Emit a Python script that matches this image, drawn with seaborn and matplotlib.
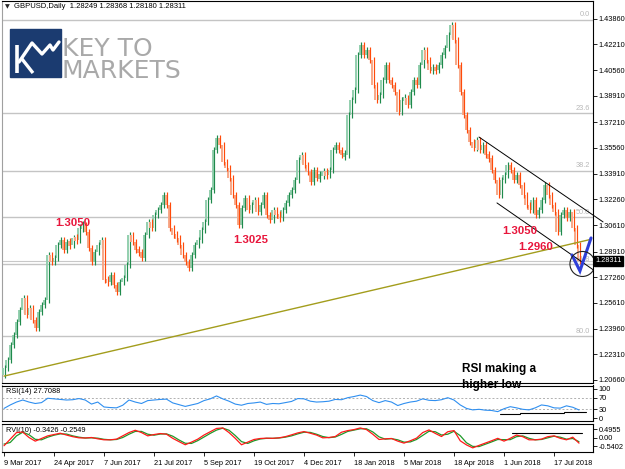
import numpy as np
import pandas as pd
import matplotlib
matplotlib.use("Agg")
import matplotlib.pyplot as plt
from matplotlib.patches import Rectangle, Ellipse
import seaborn as sns

sns.set_theme(style="white")
plt.rcParams['font.family'] = ['Liberation Sans', 'DejaVu Sans']

# ---------------- data ----------------
# GBPUSD closes, one value every 2 daily bars (9 Mar 2017 -> early Aug 2018)
closes = [
    1.2143, 1.2195, 1.2291, 1.2355, 1.2439, 1.2516, 1.2593, 1.2484, 1.2529, 1.2452,
    1.2400, 1.2503, 1.2548, 1.2580, 1.2869, 1.2824, 1.2850, 1.2933, 1.2965, 1.2901,
    1.2952, 1.2933, 1.2978, 1.2965, 1.3042, 1.3062, 1.3017, 1.2914, 1.2824, 1.2888,
    1.2933, 1.2965, 1.2708, 1.2696, 1.2741, 1.2676, 1.2631, 1.2696, 1.2721, 1.2805,
    1.2997, 1.2952, 1.2901, 1.2888, 1.2850, 1.2997, 1.3081, 1.3042, 1.3126, 1.3158,
    1.3190, 1.3254, 1.3190, 1.3042, 1.2997, 1.2978, 1.2933, 1.2869, 1.2824, 1.2785,
    1.2869, 1.2933, 1.2965, 1.3029, 1.3081, 1.3222, 1.3286, 1.3543, 1.3620, 1.3575,
    1.3466, 1.3427, 1.3363, 1.3254, 1.3190, 1.3062, 1.3171, 1.3235, 1.3158, 1.3190,
    1.3222, 1.3145, 1.3190, 1.3254, 1.3126, 1.3094, 1.3158, 1.3126, 1.3106, 1.3158,
    1.3203, 1.3254, 1.3286, 1.3350, 1.3479, 1.3511, 1.3447, 1.3402, 1.3338, 1.3415,
    1.3363, 1.3383, 1.3402, 1.3383, 1.3415, 1.3543, 1.3575, 1.3543, 1.3511, 1.3511,
    1.3768, 1.3864, 1.3928, 1.4153, 1.4217, 1.4153, 1.4185, 1.4121, 1.3960, 1.3864,
    1.3896, 1.3992, 1.4089, 1.3992, 1.3960, 1.3915, 1.3787, 1.3864, 1.3877, 1.3832,
    1.3915, 1.3992, 1.3960, 1.4089, 1.4185, 1.4121, 1.4057, 1.4069, 1.4057, 1.4089,
    1.4153, 1.4198, 1.4281, 1.4346, 1.4249, 1.4089, 1.3915, 1.3768, 1.3671, 1.3594,
    1.3556, 1.3607, 1.3543, 1.3575, 1.3511, 1.3492, 1.3415, 1.3350, 1.3254, 1.3350,
    1.3383, 1.3447, 1.3415, 1.3350, 1.3383, 1.3318, 1.3254, 1.3190, 1.3158, 1.3222,
    1.3126, 1.3158, 1.3222, 1.3318, 1.3254, 1.3190, 1.3145, 1.3017, 1.3126, 1.3158,
    1.3106, 1.3145, 1.3042, 1.2933, 1.28311,
]
first_open = 1.2100

# RSI(14), one value every 4 daily bars
rsi = [
    33, 45, 55, 62, 55, 50, 53, 68, 66, 64, 62, 63, 67, 62, 48, 55, 38, 36, 35, 44,
    62, 55, 50, 60, 62, 64, 65, 52, 46, 40, 45, 50, 60, 66, 76, 66, 58, 48, 44, 50,
    52, 55, 47, 50, 49, 53, 57, 67, 66, 58, 55, 56, 58, 64, 63, 70, 74, 79, 74, 60,
    53, 60, 55, 43, 50, 55, 58, 66, 61, 60, 63, 70, 62, 45, 33, 28, 30, 27, 26, 22,
    32, 39, 35, 30, 28, 35, 45, 42, 35, 34, 42, 37, 27.7088,
]
# RVI(10) main and signal, one value every 4 daily bars
rvi_main = [
    -0.50, -0.10, 0.30, 0.33, 0.00, -0.22, -0.06, 0.10, 0.18, 0.26, 0.15, 0.05, -0.02,
    -0.03, 0.00, -0.08, -0.14, -0.14, -0.10, 0.10, 0.30, 0.44, 0.30, 0.10, 0.18, 0.24,
    0.20, -0.05, -0.25, -0.44, -0.28, -0.10, 0.15, 0.35, 0.55, 0.58, 0.30, -0.05, -0.44,
    -0.28, -0.12, -0.06, -0.04, -0.05, -0.02, 0.05, 0.16, 0.28, 0.36, 0.26, 0.15, -0.02,
    0.00, 0.06, 0.32, 0.42, 0.48, 0.58, 0.48, 0.20, -0.12, -0.08, -0.06, -0.22, -0.34,
    -0.20, -0.04, 0.30, 0.46, 0.25, 0.06, 0.35, 0.42, -0.20, -0.45, -0.63, -0.48, -0.34,
    -0.20, -0.05, -0.22, -0.05, 0.15, 0.05, -0.14, -0.14, -0.10, 0.05, 0.10, -0.05,
    -0.14, 0.02, -0.3426,
]
rvi_signal = [
    -0.40, -0.30, 0.10, 0.32, 0.17, -0.11, -0.14, 0.02, 0.14, 0.22, 0.21, 0.10, 0.02,
    -0.03, -0.02, -0.04, -0.11, -0.14, -0.12, 0.00, 0.20, 0.37, 0.37, 0.20, 0.14, 0.21,
    0.22, 0.08, -0.15, -0.35, -0.36, -0.19, 0.03, 0.25, 0.45, 0.57, 0.44, 0.12, -0.25,
    -0.36, -0.20, -0.09, -0.05, -0.05, -0.03, 0.02, 0.10, 0.22, 0.32, 0.31, 0.20, 0.06,
    -0.01, 0.03, 0.19, 0.37, 0.45, 0.53, 0.53, 0.34, 0.04, -0.10, -0.07, -0.14, -0.28,
    -0.27, -0.12, 0.13, 0.38, 0.35, 0.15, 0.20, 0.38, 0.11, -0.32, -0.54, -0.55, -0.41,
    -0.27, -0.12, -0.13, -0.13, 0.05, 0.10, -0.05, -0.14, -0.12, -0.02, 0.08, 0.02,
    -0.10, -0.06, -0.2549,
]

price_ticks = [1.43860, 1.42210, 1.40560, 1.38910, 1.37210, 1.35560, 1.33910, 1.32260,
               1.30610, 1.28910, 1.27260, 1.25610, 1.23960, 1.22310, 1.20660]
date_labels = ["9 Mar 2017", "24 Apr 2017", "7 Jun 2017", "21 Jul 2017", "5 Sep 2017",
               "19 Oct 2017", "4 Dec 2017", "18 Jan 2018", "5 Mar 2018", "18 Apr 2018",
               "1 Jun 2018", "17 Jul 2018"]
bars_per_label = 32

fib_high, fib_low = 1.4380, 1.1840
fib_levels = [0.0, 23.6, 38.2, 50.0, 61.8, 80.0]
last_price = 1.28311
title_text = "GBPUSD,Daily  1.28249 1.28368 1.28180 1.28311"

# trader annotations (bar index, price)
trend_bars, trend_prices = [0, 376], [1.2091, 1.2970]
chan_up_bars, chan_up_prices = [304, 383.4], [1.3626, 1.3081]
chan_lo_bars, chan_lo_prices = [315.5, 378.2], [1.3203, 1.2766]
check_bars, check_prices = [363.5, 368.6, 375.7], [1.2869, 1.2766, 1.2978]
circle_bar, circle_price = 370.2, 1.2811
level_labels = [("1.3050", 44.2, 1.3077), ("1.3025", 158, 1.2965),
                ("1.3050", 330, 1.3023), ("1.2960", 340, 1.2923)]
rsi_steps = [(317.4, 330.2, 14), (330.2, 358.4, 17), (358.4, 372.5, 21)]
rvi_line = (325, 370, 0.30)

# ---------------- figure ----------------
W, H = 625, 469
fig = plt.figure(figsize=(W / 100, H / 100), dpi=100)
fig.patch.set_facecolor("white")

def axrect(top, bottom):
    return [2 / W, 1 - bottom / H, 591 / W, (bottom - top) / H]

ax = fig.add_axes(axrect(1, 383))
ax_rsi = fig.add_axes(axrect(385.5, 421), sharex=ax)
ax_rvi = fig.add_axes(axrect(424, 452), sharex=ax)

XL = (-1.28, 376.96)
FS = 5.3
for a in (ax, ax_rsi, ax_rvi):
    a.set_facecolor("white")
    for s in a.spines.values():
        s.set_color("black")
        s.set_linewidth(0.8)
    a.spines["left"].set_color("#a0a0a0")
    a.yaxis.tick_right()
    a.tick_params(axis="y", length=3, width=0.6, pad=0.8, labelsize=FS,
                  colors="black", direction="out")
    a.grid(False)
ax.set_xlim(*XL)

# ---- main price panel ----
ax.set_ylim(1.20467, 1.44996)
ax.set_yticks(price_ticks)
ax.set_yticklabels([f"{v:.5f}" for v in price_ticks])
ax.tick_params(axis="x", bottom=False, labelbottom=False)

# fibonacci levels
for lv in fib_levels:
    p = fib_high - (fib_high - fib_low) * lv / 100
    ax.axhline(p, color="#c4c4c4", lw=1.0, zorder=1)
    ax.text(0.995, p + 0.0008, f"{lv:.1f}", transform=ax.get_yaxis_transform(),
            ha="right", va="bottom", fontsize=FS, color="#b8b8b8", zorder=1)
ax.axhline(last_price, color="#c8c8c8", lw=0.8, zorder=1)

# candles (2 daily bars per entry); wick extension is a drawing style only
c = np.array(closes)
o = np.concatenate([[first_open], c[:-1]])
xb = np.arange(len(c)) * 2.0
lo = np.minimum(o, c)
hi = np.maximum(o, c)
mid = (lo + hi) / 2
half = np.maximum((hi - lo) / 2, 0.0014)
wick = 0.0020
up = c >= o
dn = ~up
ax.vlines(xb[up] - 0.42, mid[up] - half[up], mid[up] + half[up], color="#93cfae", lw=1.4, zorder=3)
ax.vlines(xb[up] + 0.55, mid[up] - half[up] - wick, mid[up] + half[up] + wick, color="#1f8a4c", lw=0.85, zorder=3)
ax.vlines(xb[dn] - 0.42, mid[dn] - half[dn], mid[dn] + half[dn], color="#f7a888", lw=1.4, zorder=3)
ax.vlines(xb[dn] + 0.55, mid[dn] - half[dn] - wick, mid[dn] + half[dn] + wick, color="#ff4a0a", lw=0.85, zorder=3)

# trend lines
sns.lineplot(x=trend_bars, y=trend_prices, ax=ax, color="#a39d1c", lw=1.0, zorder=4)
sns.lineplot(x=chan_lo_bars, y=chan_lo_prices, ax=ax, color="black", lw=0.7, zorder=4)
ax.plot(chan_up_bars, chan_up_prices, color="black", lw=0.7, zorder=4, clip_on=False)
ax.plot(check_bars, check_prices, color="#2f3fd8", lw=2.2, zorder=6,
        solid_capstyle="round", solid_joinstyle="miter")
ax.add_patch(Ellipse((circle_bar, circle_price), 25 / 1.5625, 25 / 1557.5,
                     fill=False, ec="#222222", lw=0.8, zorder=6))

for txt, b, p in level_labels:
    ax.text(b, p, txt, ha="center", va="center", fontsize=8.2, fontweight="bold",
            color="#e8163c", zorder=7)

# current price box
ax.text(1.004, last_price, f"{last_price:.5f}", transform=ax.get_yaxis_transform(),
        ha="left", va="center", fontsize=FS, color="white", zorder=8, clip_on=False,
        bbox=dict(boxstyle="square,pad=0.2", fc="black", ec="black"))

# ---- RSI panel ----
rsi_x = np.arange(len(rsi)) * 4.0
sns.lineplot(x=rsi_x, y=rsi, ax=ax_rsi, color="#2f8ff0", lw=0.8)
ax_rsi.set_ylim(-10.3, 112)
ax_rsi.set_yticks([100, 70, 30, 0])
ax_rsi.set_yticklabels(["100", "70", "30", "0"])
for lv in (70, 30):
    ax_rsi.axhline(lv, color="#b0b0b0", lw=0.7, ls=(0, (2, 2)), zorder=1)
for b0, b1, v in rsi_steps:
    ax_rsi.plot([b0, b1], [v, v], color="black", lw=0.8)
ax_rsi.tick_params(axis="x", bottom=False, labelbottom=False)
ax_rsi.text(4 / 591, 0.84, "RSI(14) 27.7088", transform=ax_rsi.transAxes,
            fontsize=FS, color="black", va="center", ha="left")
ax_rsi.set_xlabel(""); ax_rsi.set_ylabel("")

# ---- RVI panel ----
rvi_x = np.arange(len(rvi_main)) * 4.0
sns.lineplot(x=rvi_x, y=rvi_signal, ax=ax_rvi, color="#1f9a2a", lw=0.9)
sns.lineplot(x=rvi_x, y=rvi_main, ax=ax_rvi, color="#ff1a1a", lw=0.9)
ax_rvi.plot([rvi_line[0], rvi_line[1]], [rvi_line[2]] * 2, color="black", lw=0.8)
ax_rvi.set_ylim(-0.88, 0.82)
ax_rvi.set_yticks([0.4955, 0.0, -0.5402])
ax_rvi.set_yticklabels(["0.4955", "0.00", "-0.5402"])
ax_rvi.text(4 / 591, 0.76, "RVI(10) -0.3426 -0.2549", transform=ax_rvi.transAxes,
            fontsize=FS, color="black", va="center", ha="left", zorder=0)
tick_bars = [i * bars_per_label for i in range(len(date_labels))]
ax_rvi.set_xticks(tick_bars)
ax_rvi.set_xticklabels(date_labels, fontsize=FS, ha="left")
ax_rvi.tick_params(axis="x", bottom=True, length=3, width=0.6, pad=2.5, colors="black")
ax_rvi.set_xlim(*XL)
ax_rvi.set_xlabel(""); ax_rvi.set_ylabel("")
ax.set_xlabel(""); ax.set_ylabel("")

# ---- overlay: header, logo, comment ----
ov = fig.add_axes([0, 0, 1, 1], zorder=20)
ov.set_xlim(0, W); ov.set_ylim(H, 0); ov.axis("off"); ov.patch.set_alpha(0)
ov.text(4.5, 7, "\u25bc", fontsize=4.5, va="center", ha="left", family="DejaVu Sans")
ov.text(14, 7, title_text, fontsize=FS + 0.2, va="center", ha="left", color="black")
ov.add_patch(Rectangle((10, 29), 51, 48, color="#1b3b70", zorder=1))
ov.plot([17, 17], [45, 73], color="white", lw=2.6, solid_capstyle="butt", zorder=2)
ov.plot([19, 32, 42, 50, 53, 59], [62, 43, 54, 45, 50, 42], color="white", lw=2.4, zorder=2)
ov.plot([22, 33], [59, 73], color="white", lw=2.4, zorder=2, solid_capstyle="butt")
ov.text(62, 55.5, "KEY TO", fontsize=18, color="#a9a9a9", va="baseline", ha="left",
        family="DejaVu Sans")
ov.text(62, 78, "MARKETS", fontsize=18, color="#a9a9a9", va="baseline", ha="left",
        family="DejaVu Sans")
ov.text(462, 369, "RSI making a", fontsize=8.5, fontweight="bold", color="black",
        va="center", ha="left")
ov.text(462, 385, "higher low", fontsize=8.5, fontweight="bold", color="black",
        va="center", ha="left")

fig.savefig("out.png", dpi=100, facecolor="white")
